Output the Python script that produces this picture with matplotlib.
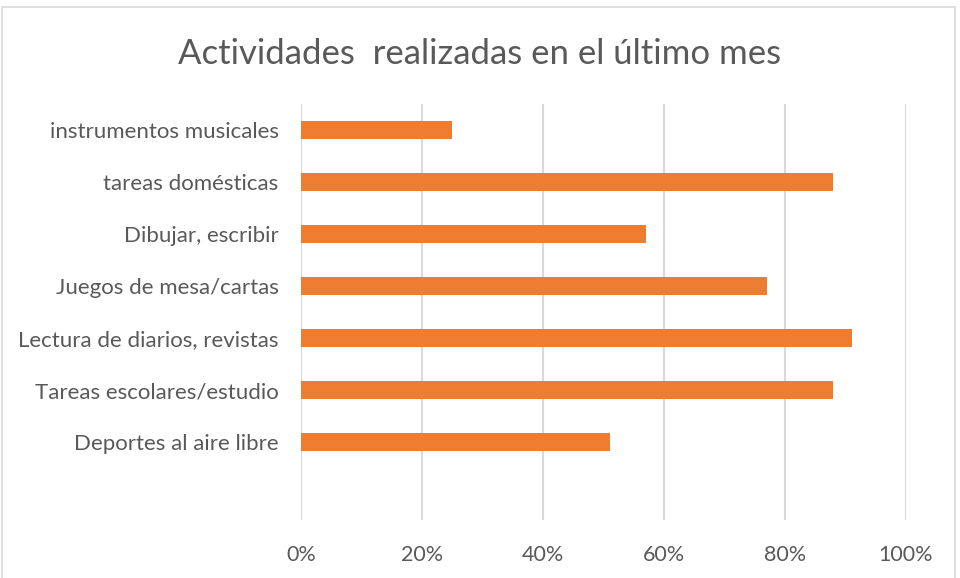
import matplotlib.pyplot as plt
from matplotlib.patches import Rectangle
from matplotlib.ticker import PercentFormatter

# Datos (de abajo hacia arriba)
categorias = [
    "Deportes al aire libre",
    "Tareas escolares/estudio",
    "Lectura de diarios, revistas",
    "Juegos de mesa/cartas",
    "Dibujar, escribir",
    "tareas domésticas",
    "instrumentos musicales",
]
valores = [0.51, 0.88, 0.91, 0.77, 0.57, 0.88, 0.25]
ticks_x = [0, 0.2, 0.4, 0.6, 0.8, 1.0]

plt.rcParams['font.family'] = ['Lato', 'DejaVu Sans']
gris = '#595959'

fig = plt.figure(figsize=(9.6, 5.78), dpi=100)
ax = fig.add_axes([0.3135, 0.1003, 0.6302, 0.7197])

posiciones = list(range(len(categorias)))
ax.barh(posiciones, valores, height=0.35, color='#ED7D31', zorder=3)

ax.set_ylim(-1.5, 6.5)
ax.set_xlim(0, 1.0)
ax.set_yticks(posiciones)
ax.set_yticklabels(categorias)
ax.set_xticks(ticks_x)
ax.xaxis.set_major_formatter(PercentFormatter(1.0, decimals=0))

ax.tick_params(axis='both', length=0, colors=gris, labelsize=15.5)
ax.tick_params(axis='y', pad=16, labelsize=16)
ax.tick_params(axis='x', pad=18)

ax.grid(axis='x', color='#D9D9D9', linewidth=1.5, zorder=0)
for s in ax.spines.values():
    s.set_visible(False)

# Titulo
fig.text(0.5, 0.907, "Actividades  realizadas en el último mes",
         ha='center', va='center', fontsize=25, color=gris)

# Borde del grafico
fig.patches.append(Rectangle((0.002, -0.01), 0.993, 0.998,
                             transform=fig.transFigure, fill=False,
                             edgecolor='#D9D9D9', linewidth=1.2))

fig.savefig('out.png', dpi=100)
